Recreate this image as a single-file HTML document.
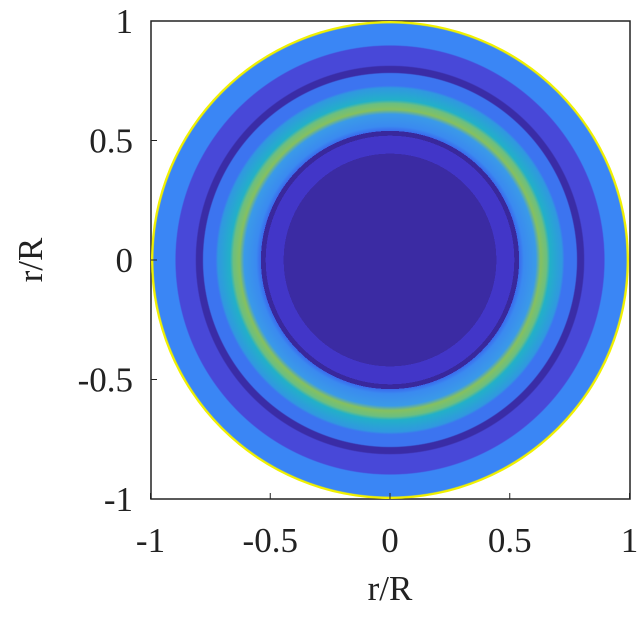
<!DOCTYPE html>
<html><head><meta charset="utf-8"><style>
body{margin:0;background:#fff;width:642px;height:624px;overflow:hidden}
text{font-family:"Liberation Serif",serif;font-size:35px;fill:#222}
</style></head><body>
<svg width="642" height="624">
<defs>
<radialGradient id="rg" cx="390" cy="260" r="239" gradientUnits="userSpaceOnUse">
<stop offset="0" stop-color="#3b2ba3"/><stop offset="0.445" stop-color="#3b2ba3"/>
<stop offset="0.445" stop-color="#4236c8"/><stop offset="0.52" stop-color="#4236c8"/>
<stop offset="0.52" stop-color="#39289c"/><stop offset="0.54" stop-color="#39289c"/>
<stop offset="0.54" stop-color="#3a6aee"/><stop offset="0.56" stop-color="#3a8af0"/>
<stop offset="0.61" stop-color="#3a9ae8"/><stop offset="0.63" stop-color="#85c060"/>
<stop offset="0.655" stop-color="#6cbf80"/><stop offset="0.67" stop-color="#22b0c8"/>
<stop offset="0.72" stop-color="#3098e0"/><stop offset="0.73" stop-color="#3c74f0"/>
<stop offset="0.78" stop-color="#3c74f0"/><stop offset="0.785" stop-color="#3a2ca6"/>
<stop offset="0.81" stop-color="#3a2ca6"/><stop offset="0.815" stop-color="#4848d8"/>
<stop offset="0.895" stop-color="#4848d8"/><stop offset="0.9" stop-color="#3a86f5"/>
<stop offset="0.988" stop-color="#3a86f5"/><stop offset="0.992" stop-color="#f0f000"/>
<stop offset="1" stop-color="#f0f000"/>
</radialGradient></defs>
<rect x="151" y="21" width="479" height="478" fill="#fff" stroke="#222" stroke-width="1.5"/>
<circle cx="390" cy="260" r="239" fill="url(#rg)"/>
<g id="ticks" stroke="#222" stroke-width="1"></g>
<g id="labels"></g>
<text x="390" y="600" text-anchor="middle">r/R</text>
<text transform="translate(42,260) rotate(-90)" text-anchor="middle">r/R</text>
</svg>
<script>
const xTicks=[-1,-0.5,0,0.5,1];
const yTicks=[-1,-0.5,0,0.5,1];
const sx=v=>390+v*239.5, sy=v=>260-v*239;
const ns="http://www.w3.org/2000/svg";
const tg=document.getElementById('ticks'), lg=document.getElementById('labels');
xTicks.forEach(v=>{
 const l=document.createElementNS(ns,'line');
 l.setAttribute('x1',sx(v));l.setAttribute('x2',sx(v));l.setAttribute('y1',499);l.setAttribute('y2',493);
 
 
 tg.appendChild(l);
 const t=document.createElementNS(ns,'text');
 t.setAttribute('x',sx(v));t.setAttribute('y',552);t.setAttribute('text-anchor','middle');
 t.textContent=String(v);
 
 
 lg.appendChild(t);
});
yTicks.forEach(v=>{
 const l=document.createElementNS(ns,'line');
 l.setAttribute('x1',151);l.setAttribute('x2',157);l.setAttribute('y1',sy(v));l.setAttribute('y2',sy(v));
 
 
 tg.appendChild(l);
 const t=document.createElementNS(ns,'text');
 t.setAttribute('x',133);t.setAttribute('y',sy(v)+12);t.setAttribute('text-anchor','end');
 t.textContent=String(v);
 
 
 lg.appendChild(t);
});
</script>
</body></html>
